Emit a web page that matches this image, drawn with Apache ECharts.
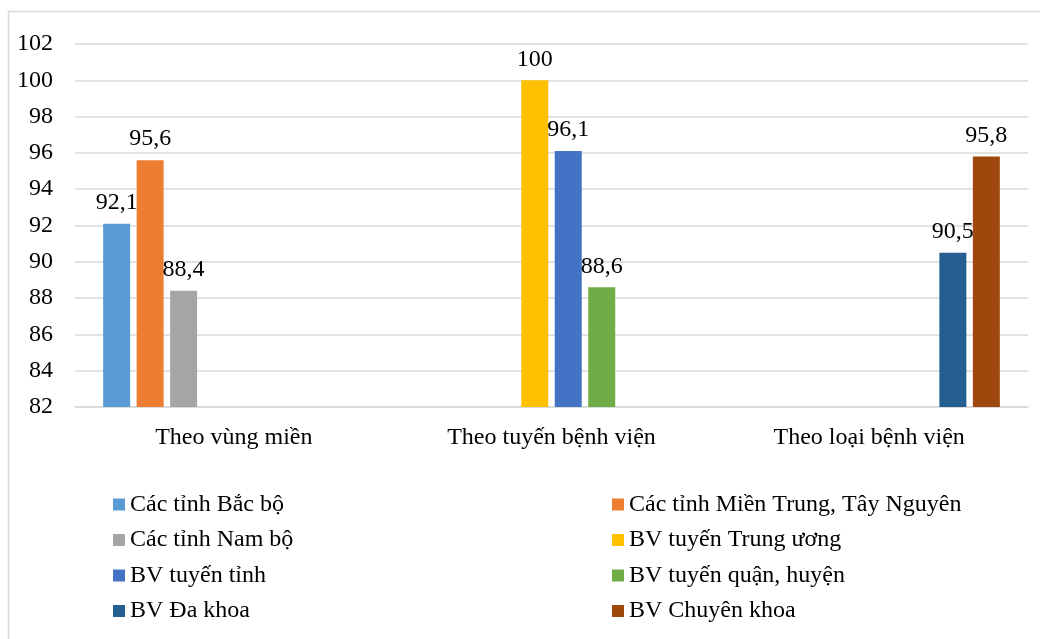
<!DOCTYPE html>
<html>
<head>
<meta charset="utf-8">
<style>
html,body{margin:0;padding:0;background:#fff;}
#c{width:1040px;height:639px;}
</style>
<script src="https://cdn.jsdelivr.net/npm/echarts@6/dist/echarts.min.js"></script>
</head>
<body>
<div id="c"></div>
<script>
const categories = ['Theo vùng miền', 'Theo tuyến bệnh viện', 'Theo loại bệnh viện'];
const seriesNames = [
  'Các tỉnh Bắc bộ',
  'Các tỉnh Miền Trung, Tây Nguyên',
  'Các tỉnh Nam bộ',
  'BV tuyến Trung ương',
  'BV tuyến tỉnh',
  'BV tuyến quận, huyện',
  'BV Đa khoa',
  'BV Chuyên khoa'
];
const bacBo      = [92.1, null, null];
const mienTrung  = [95.6, null, null];
const namBo      = [88.4, null, null];
const trungUong  = [null, 100, null];
const tuyenTinh  = [null, 96.1, null];
const quanHuyen  = [null, 88.6, null];
const daKhoa     = [null, null, 90.5];
const chuyenKhoa = [null, null, 95.8];
const yTicks = [82, 84, 86, 88, 90, 92, 94, 96, 98, 100, 102];

const seriesData = [bacBo, mienTrung, namBo, trungUong, tuyenTinh, quanHuyen, daKhoa, chuyenKhoa];
const colors = ['#5B9BD5', '#ED7D31', '#A5A5A5', '#FFC000', '#4472C4', '#70AD47', '#255E91', '#9E480E'];
const FONT = '"Liberation Serif", "Times New Roman", serif';

const chart = echarts.init(document.getElementById('c'), null, {renderer: 'canvas'});
const legendText = {fontFamily: FONT, fontSize: 24, color: '#000', lineHeight: 26};
chart.setOption({
  animation: false,
  color: colors,
  textStyle: {fontFamily: FONT},
  graphic: [{
    type: 'rect',
    shape: {x: 8.5, y: 11.5, width: 1200, height: 800},
    style: {fill: null, stroke: '#D9D9D9', lineWidth: 1.5},
    z: -1
  }],
  grid: {left: 75, right: 12, top: 44, bottom: 232, containLabel: false},
  legend: [{
    orient: 'vertical',
    left: 108, top: 486.5,
    itemWidth: 12, itemHeight: 12, itemGap: 9.5,
    icon: 'rect',
    textStyle: legendText,
    data: [seriesNames[0], seriesNames[2], seriesNames[4], seriesNames[6]]
  }, {
    orient: 'vertical',
    left: 607, top: 486.5,
    itemWidth: 12, itemHeight: 12, itemGap: 9.5,
    icon: 'rect',
    textStyle: legendText,
    data: [seriesNames[1], seriesNames[3], seriesNames[5], seriesNames[7]]
  }],
  xAxis: {
    type: 'category',
    data: categories,
    axisLine: {show: true, lineStyle: {color: '#D9D9D9', width: 1.5}},
    axisTick: {show: false},
    axisLabel: {fontFamily: FONT, fontSize: 24, color: '#000', margin: 19}
  },
  yAxis: {
    type: 'value',
    min: yTicks[0], max: yTicks[yTicks.length - 1], interval: 2,
    axisLine: {show: false},
    axisTick: {show: false},
    splitLine: {lineStyle: {color: '#D9D9D9', width: 1.5}},
    axisLabel: {fontFamily: FONT, fontSize: 24, color: '#000', margin: 22}
  },
  series: seriesNames.map((name, i) => ({
    name: name,
    type: 'bar',
    data: seriesData[i],
    barWidth: 27,
    barGap: '24%',
    itemStyle: {color: colors[i]},
    label: {
      show: true,
      position: 'top',
      distance: 9,
      fontFamily: FONT,
      fontSize: 24,
      color: '#000',
      formatter: p => String(p.value).replace('.', ',')
    }
  }))
});
</script>
</body>
</html>
